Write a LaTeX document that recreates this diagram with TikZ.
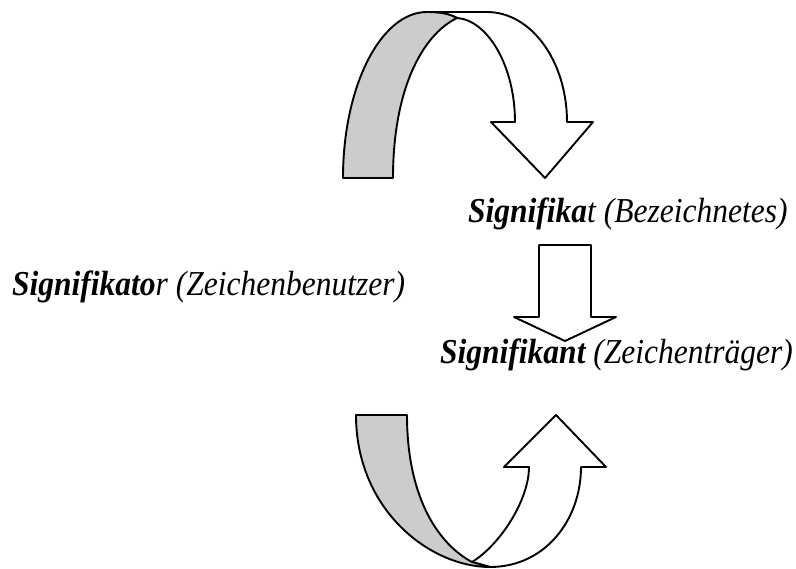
\documentclass[tikz,border=0pt]{standalone}
\usepackage{fontspec}
\setmainfont{Liberation Serif}
\usepackage{graphicx}
\newcommand{\bfit}[1]{\textbf{\textit{#1}}}
\newcommand{\narrow}[1]{\scalebox{0.9}[1]{\itshape #1}}

\begin{document}
\begin{tikzpicture}[x=1pt,y=-1pt,
    ribbon/.style={line width=1.9pt,line join=round},
    back/.style={ribbon,fill=black!20},
    front/.style={ribbon,fill=white},
    label/.style={anchor=base west,inner sep=0pt,font=\fontsize{35}{40}\selectfont}]
    \useasboundingbox (0,0) rectangle (796,569);
    %top arrow
    \draw [front] (457,18) .. controls (487,20) and (515,65) .. (515,122)
                  -- (491,122) -- (545,178) -- (593,122) -- (567,122)
                  .. controls (567,61) and (531,12) .. (487,12) -- (427,12)
                  .. controls (440,12) and (450,14) .. (457,18);
    \draw [back] (343,178) .. controls (343,86) and (381,12) .. (427,12)
                 .. controls (440,12) and (450,14) .. (457,18)
                 .. controls (422,35) and (393,90) .. (393,178) -- cycle;
    %middle arrow
    \draw [ribbon] (539,245) -- (591,245) -- (591,317) -- (616,317)
                   -- (565,341) -- (514,317) -- (539,317) -- cycle;
    %bottom arrow
    \draw [front] (472,562) .. controls (500,545) and (529,500) .. (529,467)
                  -- (504,467) -- (556,415) -- (606,467) -- (581,467)
                  .. controls (581,520) and (545,567) .. (490,567) -- cycle;
    \draw [back] (356,415) -- (407,415) .. controls (407,500) and (440,545) .. (472,562)
                 -- (490,567) .. controls (430,567) and (356,510) .. cycle;
    %labels
    \node [label] (signifikat) at (468,223)
        {\narrow{\bfit{Signifika}t (Bezeichnetes)}};
    \node [label] (signifikator) at (12,296)
        {\narrow{\bfit{Signifikato}r (Zeichenbenutzer)}};
    \node [label] (signifikant) at (440,364)
        {\narrow{\bfit{Signifikant} (Zeichenträger)}};
\end{tikzpicture}
\end{document}
